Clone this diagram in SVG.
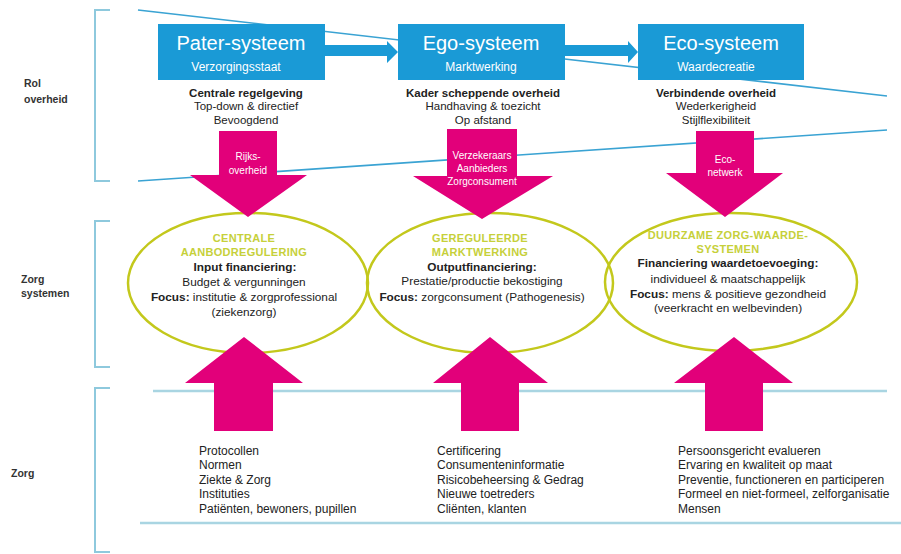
<svg xmlns="http://www.w3.org/2000/svg" width="901" height="554" viewBox="0 0 901 554">
<style>
.bracket{fill:none;stroke:#8ec9dd;stroke-width:2}
.diag{fill:none;stroke:#3aa3d3;stroke-width:1.6}
.hline{fill:none;stroke:#a9d5e2;stroke-width:2.5}
.box{fill:#1a9ad6}
.btitle{font-family:"Liberation Sans",Arial,sans-serif;font-size:20px;fill:#fff;text-anchor:middle}
.bsub{font-family:"Liberation Sans",Arial,sans-serif;font-size:12px;fill:#fff;text-anchor:middle}
.t{font-family:"Liberation Sans",Arial,sans-serif;font-size:11.5px;fill:#222}
.e{font-size:11.8px}
.l{font-size:12px}
.c{text-anchor:middle}
.b{font-weight:bold}
.lbl{font-family:"Liberation Sans",Arial,sans-serif;font-size:10.5px;font-weight:bold;fill:#333}
.mag{fill:#e2007a}
.wt{font-family:"Liberation Sans",Arial,sans-serif;font-size:10px;fill:#fff;text-anchor:middle}
.ell{fill:none;stroke:#c3c81c;stroke-width:2.5}
.gt{font-family:"Liberation Sans",Arial,sans-serif;font-size:11px;font-weight:bold;fill:#c6d03a;text-anchor:middle;letter-spacing:0.3px}
</style>
<rect width="901" height="554" fill="#fff"/>
<g id="frame">
<path class="bracket" d="M110,10 H95 V181 H110"/>
<path class="bracket" d="M110,221 H95 V367 H110"/>
<path class="bracket" d="M110,388 H95 V552 H110"/>
<line class="diag" x1="138" y1="10" x2="887" y2="96"/>
<line class="diag" x1="138" y1="181" x2="887" y2="130"/>
<line class="hline" x1="153" y1="391" x2="887" y2="391"/>
<line class="hline" x1="140" y1="523" x2="901" y2="523"/>
</g>
<g id="labels">
<text class="lbl" x="24" y="87">Rol</text>
<text class="lbl" x="24" y="103">overheid</text>
<text class="lbl" x="21" y="283">Zorg</text>
<text class="lbl" x="21" y="297">systemen</text>
<text class="lbl" x="11" y="477">Zorg</text>
</g>
<g id="ellipse-centrale">
<ellipse class="ell" cx="248" cy="283" rx="120" ry="70"/>
<text class="gt" x="244" y="242">CENTRALE</text>
<text class="gt" x="244" y="256">AANBODREGULERING</text>
<text class="t e c b" x="245" y="271">Input financiering:</text>
<text class="t e c" x="244" y="286">Budget &amp; vergunningen</text>
<text class="t e c" x="244" y="301"><tspan class="b">Focus:</tspan>  institutie &amp; zorgprofessional</text>
<text class="t e c" x="244" y="316">(ziekenzorg)</text>
</g>
<g id="ellipse-gereguleerde">
<ellipse class="ell" cx="490" cy="283" rx="123" ry="70"/>
<text class="gt" x="480" y="242">GEREGULEERDE</text>
<text class="gt" x="480" y="256">MARKTWERKING</text>
<text class="t e c b" x="482" y="271">Outputfinanciering:</text>
<text class="t e c" x="482" y="285">Prestatie/productie bekostiging</text>
<text class="t e c" x="482" y="301"><tspan class="b">Focus:</tspan>  zorgconsument (Pathogenesis)</text>
</g>
<g id="ellipse-duurzame">
<ellipse class="ell" cx="731" cy="282" rx="126" ry="69"/>
<text class="gt" x="728" y="239">DUURZAME  ZORG-WAARDE-</text>
<text class="gt" x="728" y="253">SYSTEMEN</text>
<text class="t e c b" x="728" y="267">Financiering  waardetoevoeging:</text>
<text class="t e c" x="728" y="283">individueel &amp; maatschappelijk</text>
<text class="t e c" x="728" y="298"><tspan class="b">Focus:</tspan>  mens &amp; positieve gezondheid</text>
<text class="t e c" x="728" y="312">(veerkracht en welbevinden)</text>
</g>
<g id="connectors">
<polygon class="box" points="325,45 387,45 387,41 398,52 387,63 387,56 325,56"/>
<polygon class="box" points="565,45 628,45 628,41 638,52 628,63 628,56 565,56"/>
<polygon class="mag" points="219,131 277,131 277,175 307,175 248,217 190,175 219,175"/>
<polygon class="mag" points="447,129 517,129 517,176 553,176 482,219 413,176 447,176"/>
<polygon class="mag" points="696,131 754,131 754,173 783,173 725,217 666,173 696,173"/>
<polygon class="mag" points="244,337 303,383 273,383 273,431 214,431 214,383 185,383"/>
<polygon class="mag" points="490,337 548,383 519,383 519,431 461,431 461,383 433,383"/>
<polygon class="mag" points="734,337 793,383 763,383 763,431 705,431 705,383 674,383"/>
<text class="wt" x="248" y="160">Rijks-</text>
<text class="wt" x="248" y="174">overheid</text>
<text class="wt" x="482" y="159">Verzekeraars</text>
<text class="wt" x="482" y="172">Aanbieders</text>
<text class="wt" x="482" y="185">Zorgconsument</text>
<text class="wt" x="725" y="163">Eco-</text>
<text class="wt" x="725" y="176">netwerk</text>
</g>
<g id="pater">
<rect class="box" x="158" y="24" width="167" height="56"/>
<text class="btitle" x="241" y="50">Pater-systeem</text>
<text class="bsub" x="236" y="71">Verzorgingsstaat</text>
<text class="t c b" x="246" y="97">Centrale regelgeving</text>
<text class="t c" x="246" y="110">Top-down &amp; directief</text>
<text class="t c" x="246" y="124">Bevoogdend</text>
</g>
<g id="ego">
<rect class="box" x="398" y="24" width="167" height="56"/>
<text class="btitle" x="481" y="50">Ego-systeem</text>
<text class="bsub" x="481" y="71">Marktwerking</text>
<text class="t c b" x="483" y="97">Kader scheppende overheid</text>
<text class="t c" x="483" y="110">Handhaving &amp; toezicht</text>
<text class="t c" x="483" y="124">Op afstand</text>
</g>
<g id="eco">
<rect class="box" x="638" y="24" width="166" height="56"/>
<text class="btitle" x="721" y="50">Eco-systeem</text>
<text class="bsub" x="716" y="71">Waardecreatie</text>
<text class="t c b" x="716" y="97">Verbindende overheid</text>
<text class="t c" x="716" y="110">Wederkerigheid</text>
<text class="t c" x="716" y="124">Stijlflexibiliteit</text>
</g>
<g id="list-pater">
<text class="t l" x="199" y="455">Protocollen</text>
<text class="t l" x="199" y="469">Normen</text>
<text class="t l" x="199" y="484">Ziekte &amp; Zorg</text>
<text class="t l" x="199" y="498">Instituties</text>
<text class="t l" x="199" y="513">Patiënten, bewoners, pupillen</text>
</g>
<g id="list-ego">
<text class="t l" x="437" y="455">Certificering</text>
<text class="t l" x="437" y="469">Consumenteninformatie</text>
<text class="t l" x="437" y="484">Risicobeheersing &amp; Gedrag</text>
<text class="t l" x="437" y="498">Nieuwe toetreders</text>
<text class="t l" x="437" y="513">Cliënten, klanten</text>
</g>
<g id="list-eco">
<text class="t l" x="678" y="455">Persoonsgericht evalueren</text>
<text class="t l" x="678" y="469">Ervaring en kwaliteit op maat</text>
<text class="t l" x="678" y="484">Preventie, functioneren en participeren</text>
<text class="t l" x="678" y="498">Formeel en niet-formeel, zelforganisatie</text>
<text class="t l" x="678" y="513">Mensen</text>
</g>
</svg>
